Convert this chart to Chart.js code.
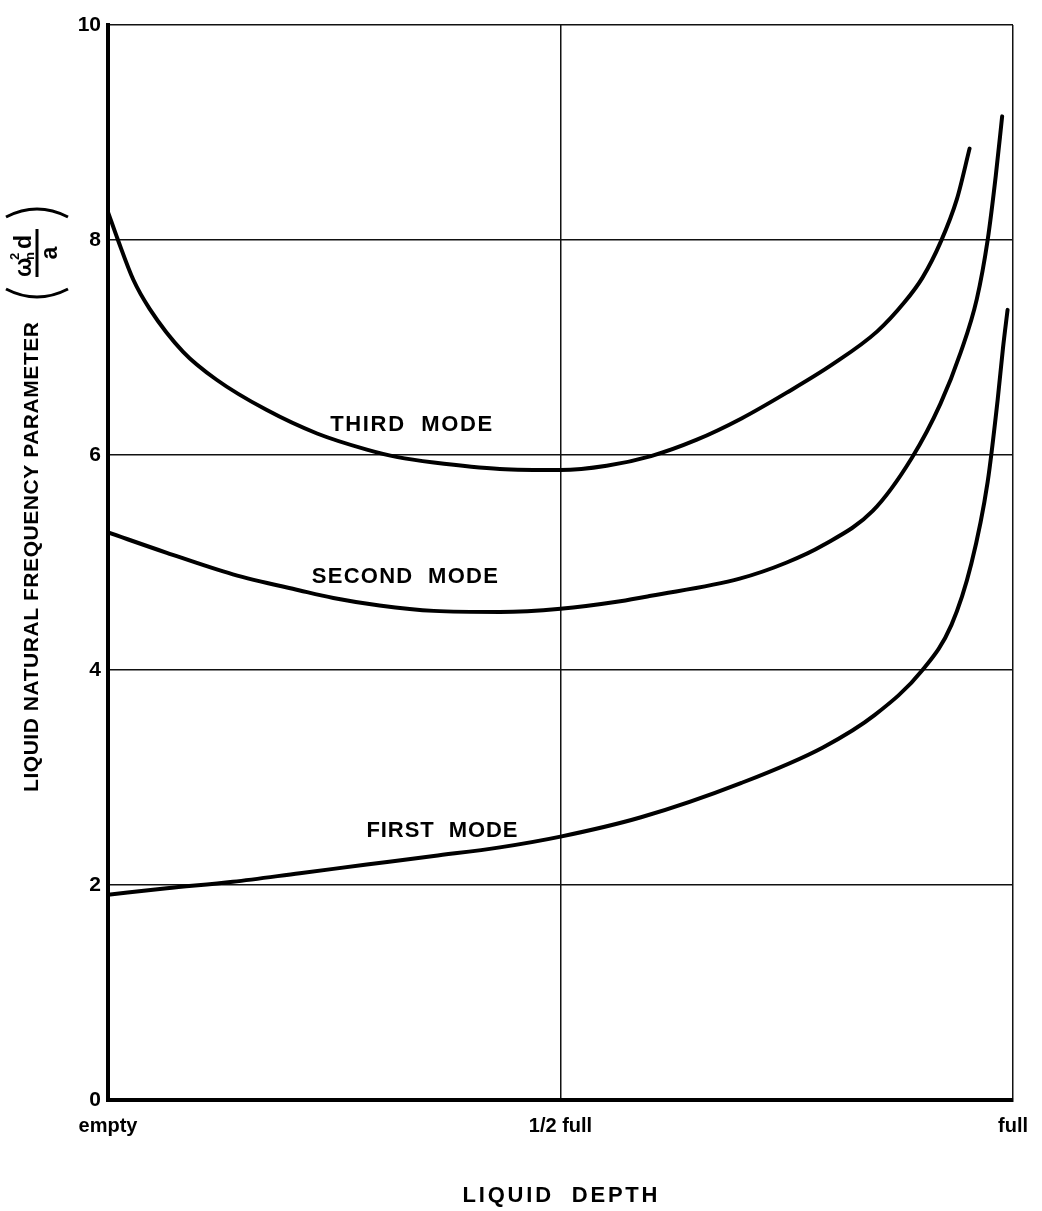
<!DOCTYPE html>
<html>
<head>
<meta charset="utf-8">
<script src="https://cdn.jsdelivr.net/npm/chart.js@4.4.1/dist/chart.umd.min.js"></script>
<style>
  body { margin: 0; background: #fff; }
  #wrap { width: 1042px; height: 1211px; }
</style>
</head>
<body>
<div id="wrap"><canvas id="freqChart" width="1042" height="1211"></canvas></div>
<script>
//================== data ==================
// x: liquid depth as fraction of full, y: frequency parameter
const depthTicks = [0, 0.5, 1];
const depthLabels = ["empty", "1/2 full", "full"];
const paramTicks = [0, 2, 4, 6, 8, 10];

const firstModeDepth = [0, 0.065, 0.138, 0.212, 0.286, 0.36, 0.433, 0.5, 0.589, 0.7, 0.79, 0.847, 0.9, 0.932, 0.954, 0.972, 0.983, 0.989, 0.994];
const firstModeValue = [1.91, 1.97, 2.03, 2.11, 2.19, 2.27, 2.35, 2.45, 2.63, 2.95, 3.28, 3.58, 4.0, 4.42, 4.99, 5.75, 6.51, 7.0, 7.35];

const secondModeDepth = [0, 0.065, 0.138, 0.212, 0.249, 0.3, 0.36, 0.433, 0.5, 0.566, 0.6, 0.698, 0.75, 0.79, 0.845, 0.888, 0.92, 0.942, 0.96, 0.972, 0.981, 0.988];
const secondModeValue = [5.28, 5.09, 4.89, 4.74, 4.67, 4.6, 4.55, 4.54, 4.57, 4.64, 4.69, 4.85, 5.0, 5.16, 5.48, 5.97, 6.48, 6.95, 7.45, 8.0, 8.6, 9.15];

const thirdModeDepth = [0, 0.011, 0.028, 0.046, 0.083, 0.12, 0.175, 0.231, 0.286, 0.32, 0.36, 0.433, 0.5, 0.551, 0.6, 0.65, 0.7, 0.75, 0.8, 0.85, 0.88, 0.9, 0.92, 0.938, 0.952];
const thirdModeValue = [8.26, 8.0, 7.63, 7.36, 6.96, 6.7, 6.42, 6.2, 6.05, 5.98, 5.93, 5.87, 5.86, 5.9, 5.99, 6.14, 6.34, 6.58, 6.84, 7.15, 7.42, 7.65, 7.98, 8.38, 8.85];

const modeNames = ["THIRD  MODE", "SECOND  MODE", "FIRST  MODE"];

//================== helpers ==================
const FONT = '"Liberation Sans", Arial, sans-serif';

function toPoints(xs, ys) {
  return xs.map((x, i) => ({ x: x, y: ys[i] }));
}

function curve(xs, ys) {
  return {
    data: toPoints(xs, ys),
    borderColor: "#000",
    borderWidth: 4,
    borderCapStyle: "round",
    pointRadius: 0,
    cubicInterpolationMode: "monotone",
    fill: false,
  };
}

// draw text stretched to a target width with letter spacing
function spacedText(ctx, text, x, y, width) {
  ctx.letterSpacing = "0px";
  const w = ctx.measureText(text).width;
  const gap = Math.max(0, (width - w) / (text.length - 1));
  ctx.letterSpacing = gap + "px";
  ctx.fillText(text, x + gap / 2, y);
  ctx.letterSpacing = "0px";
}

// labels on the curves, titles and the y-axis fraction
const annotations = {
  id: "annotations",
  afterDraw(chart) {
    const ctx = chart.ctx;
    const xs = chart.scales.x;
    const ys = chart.scales.y;
    ctx.save();
    ctx.fillStyle = "#000";
    ctx.strokeStyle = "#000";
    ctx.textAlign = "center";
    ctx.textBaseline = "middle";

    // mode labels (anchor in data units)
    const anchors = [
      { x: 0.335, y: 6.28, w: 162 },
      { x: 0.328, y: 4.87, w: 186 },
      { x: 0.369, y: 2.5, w: 151 },
    ];
    ctx.font = "bold 22px " + FONT;
    modeNames.forEach((name, i) => {
      spacedText(ctx, name, xs.getPixelForValue(anchors[i].x), ys.getPixelForValue(anchors[i].y), anchors[i].w);
    });

    // x title
    ctx.font = "bold 22px " + FONT;
    spacedText(ctx, "LIQUID  DEPTH", 560, 1196, 195);

    // y title, rotated
    ctx.save();
    ctx.translate(32, 557);
    ctx.rotate(-Math.PI / 2);
    ctx.font = "bold 21px " + FONT;
    spacedText(ctx, "LIQUID NATURAL FREQUENCY PARAMETER", 0, 0, 470);
    ctx.restore();

    // fraction (w_n^2 d / a) in parentheses
    ctx.save();
    ctx.translate(37, 253);
    ctx.rotate(-Math.PI / 2);
    ctx.textAlign = "left";
    ctx.textBaseline = "alphabetic";
    ctx.lineWidth = 3;
    ctx.beginPath();
    ctx.moveTo(-24, 0);
    ctx.lineTo(24, 0);
    ctx.stroke();
    ctx.font = "bold 23px " + FONT;
    ctx.fillText("\u03c9", -24, -6);
    ctx.font = "bold 13px " + FONT;
    ctx.fillText("2", -7, -18);
    ctx.fillText("n", -7, -3);
    ctx.font = "bold 23px " + FONT;
    ctx.fillText("d", 4, -6);
    ctx.textAlign = "center";
    ctx.fillText("a", 0, 20);
    // parentheses
    ctx.lineWidth = 3;
    ctx.beginPath();
    ctx.moveTo(-36, -31);
    ctx.quadraticCurveTo(-52, 0, -36, 31);
    ctx.moveTo(36, -31);
    ctx.quadraticCurveTo(52, 0, 36, 31);
    ctx.stroke();
    ctx.restore();

    ctx.restore();
  },
};

//================== chart ==================
const data = {
  datasets: [
    curve(firstModeDepth, firstModeValue),
    curve(secondModeDepth, secondModeValue),
    curve(thirdModeDepth, thirdModeValue),
  ],
};

const config = {
  type: "line",
  data: data,
  options: {
    responsive: false,
    animation: false,
    layout: { padding: { top: 25, right: 29, left: 0, bottom: 0 } },
    plugins: {
      legend: { display: false },
      tooltip: { enabled: false },
    },
    scales: {
      x: {
        type: "linear",
        min: 0,
        max: 1,
        afterBuildTicks: (scale) => {
          scale.ticks = depthTicks.map((v) => ({ value: v }));
        },
        afterFit: (scale) => {
          scale.height = 111;
        },
        ticks: {
          callback: (value) => depthLabels[depthTicks.indexOf(value)],
          font: { family: FONT, size: 20, weight: "bold" },
          color: "#000",
          padding: 14,
          maxRotation: 0,
          autoSkip: false,
        },
        grid: { color: "#111", lineWidth: 1.5, drawTicks: false },
        border: { color: "#000", width: 4 },
      },
      y: {
        min: 0,
        max: 10,
        afterBuildTicks: (scale) => {
          scale.ticks = paramTicks.map((v) => ({ value: v }));
        },
        afterFit: (scale) => {
          scale.width = 108;
        },
        ticks: {
          font: { family: FONT, size: 21, weight: "bold" },
          color: "#000",
          padding: 7,
        },
        grid: { color: "#111", lineWidth: 1.5, drawTicks: false },
        border: { color: "#000", width: 4 },
      },
    },
  },
  plugins: [annotations],
};

let freqChart = new Chart(document.getElementById("freqChart"), config);
</script>
</body>
</html>
